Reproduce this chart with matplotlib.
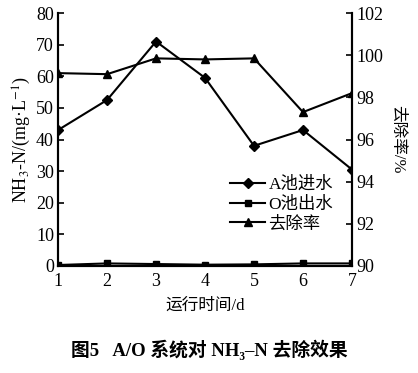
import matplotlib
matplotlib.use('Agg')
import matplotlib.pyplot as plt

# Data
days = [1, 2, 3, 4, 5, 6, 7]
a_inflow = [43, 52.5, 71, 59.5, 38, 43, 30.5]       # A池进水, mg/L
o_outflow = [0.3, 0.8, 0.6, 0.4, 0.5, 0.8, 0.8]      # O池出水, mg/L
removal = [99.15, 99.1, 99.85, 99.8, 99.85, 97.3, 98.2]  # 去除率, %

left_ticks = [0, 10, 20, 30, 40, 50, 60, 70, 80]
right_ticks = [90, 92, 94, 96, 98, 100, 102]

plt.rcParams['font.family'] = ['Liberation Serif', 'Noto Sans CJK SC']
plt.rcParams['mathtext.fontset'] = 'stix'

fig = plt.figure(figsize=(4.18, 3.73), dpi=100)
ax = fig.add_axes([0.139, 0.287, 0.703, 0.678])
ax2 = ax.twinx()

l1, = ax.plot(days, a_inflow, color='black', lw=1.5, marker='D', ms=5, label='A池进水')
l2, = ax.plot(days, o_outflow, color='black', lw=1.5, marker='s', ms=5, label='O池出水')
l3, = ax2.plot(days, removal, color='black', lw=1.5, marker='^', ms=6, label='去除率')

ax.set_xlim(1, 7)
ax.set_ylim(0, 80)
ax2.set_ylim(90, 102)
ax.set_xticks(days)
ax.set_yticks(left_ticks)
ax2.set_yticks(right_ticks)

for a in (ax, ax2):
    a.spines['top'].set_visible(False)
    for s in a.spines.values():
        s.set_linewidth(1.5)
    a.tick_params(direction='in', labelsize=13, width=1.2, length=4, pad=3)
ax.tick_params(axis='x', length=0, pad=5)

ax.set_ylabel('NH$_3$-N/(mg·L$^{-1}$)', fontsize=13, labelpad=2)
ax2.set_ylabel('去除率/%', fontsize=12, rotation=270, labelpad=16)
ax.set_xlabel('运行时间/d', fontsize=12, labelpad=6)

ax.legend(handles=[l1, l2, l3], loc='lower right', bbox_to_anchor=(0.96, 0.105),
          frameon=False, fontsize=12.5, handlelength=2.0, handletextpad=0.2,
          labelspacing=0.2, borderaxespad=0)

fig.text(0.5, 0.045, '图5   A/O 系统对 NH₃–N 去除效果', ha='center',
         fontsize=13.5, fontweight='bold')

fig.savefig('out.png', dpi=100)
